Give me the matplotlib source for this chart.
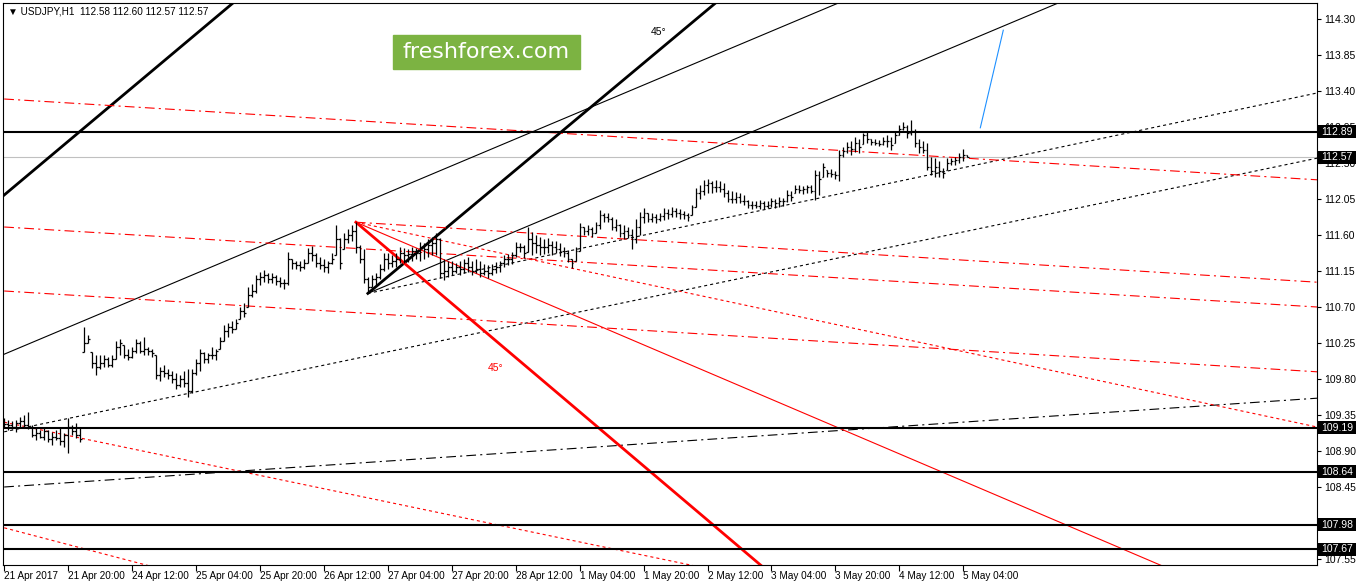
import numpy as np
import matplotlib.pyplot as plt
from matplotlib.patches import Rectangle
from matplotlib.transforms import blended_transform_factory

plt.rcParams['font.family'] = ['Liberation Sans', 'DejaVu Sans']
plt.rcParams['lines.scale_dashes'] = False

# USDJPY H1, 21 Apr 2017 04:00 .. 5 May 2017 05:00
highs = [109.31, 109.29, 109.27, 109.29, 109.33, 109.35, 109.39, 109.22, 109.19, 109.16,
         109.20, 109.16, 109.14, 109.16, 109.19, 109.12, 109.31, 109.22, 109.25, 109.20,
         110.45, 110.35, 110.14, 110.10, 110.10, 110.10, 110.08, 110.10, 110.28, 110.30,
         110.22, 110.18, 110.20, 110.30, 110.28, 110.33, 110.20, 110.18, 110.10, 109.95,
         109.97, 109.92, 109.90, 109.88, 109.85, 109.90, 109.92, 109.93, 110.05, 110.17,
         110.14, 110.12, 110.20, 110.18, 110.33, 110.48, 110.50, 110.52, 110.55, 110.70,
         110.75, 110.95, 110.99, 111.10, 111.14, 111.16, 111.13, 111.12, 111.10, 111.07,
         111.05, 111.39, 111.30, 111.28, 111.28, 111.30, 111.44, 111.46, 111.38, 111.33,
         111.30, 111.28, 111.38, 111.72, 111.56, 111.63, 111.68, 111.72, 111.76, 111.48,
         111.42, 111.08, 111.10, 111.12, 111.24, 111.38, 111.38, 111.35, 111.37, 111.45,
         111.44, 111.42, 111.45, 111.44, 111.51, 111.50, 111.55, 111.57, 111.62, 111.56,
         111.30, 111.28, 111.28, 111.25, 111.27, 111.30, 111.32, 111.28, 111.30, 111.28,
         111.24, 111.22, 111.24, 111.26, 111.28, 111.35, 111.36, 111.39, 111.51, 111.50,
         111.48, 111.70, 111.64, 111.60, 111.58, 111.55, 111.56, 111.52, 111.52, 111.50,
         111.45, 111.41, 111.30, 111.45, 111.75, 111.70, 111.72, 111.70, 111.76, 111.91,
         111.88, 111.88, 111.82, 111.80, 111.74, 111.72, 111.70, 111.68, 111.80, 111.89,
         111.94, 111.88, 111.87, 111.86, 111.88, 111.94, 111.92, 111.95, 111.94, 111.92,
         111.90, 111.88, 111.98, 112.19, 112.22, 112.29, 112.30, 112.28, 112.29, 112.27,
         112.25, 112.16, 112.15, 112.14, 112.12, 112.10, 112.04, 112.03, 112.02, 112.04,
         112.02, 112.03, 112.06, 112.05, 112.07, 112.06, 112.16, 112.15, 112.22, 112.22,
         112.21, 112.23, 112.22, 112.41, 112.40, 112.50, 112.41, 112.42, 112.40, 112.66,
         112.70, 112.76, 112.78, 112.82, 112.80, 112.88, 112.89, 112.80, 112.80, 112.79,
         112.82, 112.85, 112.82, 112.90, 112.97, 113.01, 112.97, 113.04, 112.92, 112.80,
         112.78, 112.75, 112.57, 112.56, 112.52, 112.44, 112.56, 112.56, 112.57, 112.63,
         112.67, 112.60]
lows = [109.19, 109.16, 109.17, 109.14, 109.19, 109.20, 109.17, 109.07, 109.04, 109.06,
        109.04, 109.01, 108.98, 109.04, 108.98, 108.95, 108.88, 109.10, 109.06, 109.01,
        110.14, 110.25, 109.94, 109.85, 109.92, 109.95, 109.95, 109.95, 110.05, 110.10,
        110.06, 110.04, 110.06, 110.12, 110.12, 110.10, 110.10, 110.08, 109.80, 109.78,
        109.82, 109.80, 109.75, 109.68, 109.70, 109.70, 109.58, 109.62, 109.85, 109.90,
        110.00, 110.00, 110.05, 110.04, 110.18, 110.28, 110.33, 110.38, 110.42, 110.55,
        110.58, 110.70, 110.82, 110.88, 110.97, 111.01, 111.00, 111.00, 110.98, 110.95,
        110.92, 110.98, 111.18, 111.18, 111.15, 111.18, 111.25, 111.28, 111.20, 111.18,
        111.14, 111.13, 111.24, 111.35, 111.18, 111.43, 111.50, 111.52, 111.38, 111.25,
        111.00, 110.87, 110.95, 110.98, 111.05, 111.15, 111.18, 111.20, 111.20, 111.25,
        111.25, 111.26, 111.28, 111.30, 111.27, 111.30, 111.32, 111.35, 111.35, 111.06,
        111.04, 111.08, 111.10, 111.12, 111.10, 111.12, 111.14, 111.10, 111.12, 111.08,
        111.10, 111.06, 111.10, 111.12, 111.14, 111.20, 111.22, 111.24, 111.32, 111.39,
        111.31, 111.39, 111.35, 111.38, 111.35, 111.36, 111.37, 111.35, 111.37, 111.34,
        111.32, 111.26, 111.19, 111.28, 111.40, 111.60, 111.60, 111.58, 111.62, 111.68,
        111.76, 111.76, 111.66, 111.65, 111.57, 111.55, 111.56, 111.42, 111.50, 111.60,
        111.75, 111.76, 111.76, 111.75, 111.77, 111.79, 111.80, 111.82, 111.82, 111.80,
        111.80, 111.78, 111.85, 111.95, 112.05, 112.10, 112.12, 112.12, 112.14, 112.14,
        112.08, 112.01, 112.00, 112.00, 112.00, 111.98, 111.94, 111.93, 111.94, 111.93,
        111.92, 111.94, 111.95, 111.94, 111.95, 111.96, 112.01, 112.02, 112.12, 112.12,
        112.11, 112.13, 112.12, 112.04, 112.10, 112.32, 112.32, 112.32, 112.30, 112.27,
        112.58, 112.62, 112.60, 112.64, 112.63, 112.74, 112.75, 112.72, 112.72, 112.71,
        112.72, 112.70, 112.66, 112.75, 112.85, 112.91, 112.81, 112.85, 112.70, 112.62,
        112.62, 112.41, 112.35, 112.33, 112.32, 112.31, 112.41, 112.47, 112.47, 112.50,
        112.52, 112.57]
closes = [109.24, 109.22, 109.20, 109.25, 109.28, 109.22, 109.20, 109.10, 109.12, 109.08,
          109.15, 109.05, 109.08, 109.06, 109.02, 109.10, 109.20, 109.15, 109.10, 109.05,
          110.25, 110.30, 110.00, 109.95, 110.00, 110.05, 109.98, 110.05, 110.20, 110.25,
          110.10, 110.08, 110.15, 110.25, 110.15, 110.18, 110.15, 110.12, 109.85, 109.90,
          109.88, 109.85, 109.80, 109.72, 109.80, 109.75, 109.65, 109.88, 110.00, 110.12,
          110.05, 110.10, 110.10, 110.15, 110.28, 110.40, 110.45, 110.42, 110.50, 110.65,
          110.62, 110.85, 110.90, 111.05, 111.08, 111.10, 111.05, 111.08, 111.02, 111.00,
          111.00, 111.30, 111.25, 111.22, 111.20, 111.25, 111.38, 111.35, 111.25, 111.22,
          111.20, 111.25, 111.30, 111.55, 111.25, 111.55, 111.60, 111.65, 111.45, 111.30,
          111.05, 110.95, 111.05, 111.08, 111.18, 111.30, 111.25, 111.28, 111.30, 111.38,
          111.35, 111.36, 111.40, 111.38, 111.45, 111.42, 111.48, 111.50, 111.55, 111.12,
          111.15, 111.20, 111.15, 111.20, 111.18, 111.25, 111.20, 111.15, 111.18, 111.12,
          111.15, 111.12, 111.18, 111.20, 111.25, 111.30, 111.30, 111.35, 111.45, 111.45,
          111.38, 111.55, 111.50, 111.48, 111.45, 111.45, 111.48, 111.45, 111.42, 111.40,
          111.38, 111.30, 111.25, 111.40, 111.70, 111.65, 111.68, 111.62, 111.72, 111.85,
          111.82, 111.80, 111.70, 111.72, 111.62, 111.65, 111.60, 111.55, 111.70, 111.82,
          111.88, 111.80, 111.82, 111.80, 111.84, 111.88, 111.86, 111.90, 111.88, 111.86,
          111.85, 111.82, 111.95, 112.12, 112.15, 112.22, 112.25, 112.20, 112.20, 112.18,
          112.12, 112.05, 112.05, 112.08, 112.03, 112.02, 111.98, 111.97, 111.96, 112.00,
          111.96, 111.98, 112.02, 112.00, 112.03, 112.02, 112.10, 112.08, 112.18, 112.16,
          112.18, 112.20, 112.15, 112.35, 112.30, 112.45, 112.38, 112.36, 112.35, 112.60,
          112.65, 112.70, 112.68, 112.75, 112.70, 112.85, 112.80, 112.76, 112.75, 112.74,
          112.78, 112.78, 112.72, 112.85, 112.92, 112.95, 112.88, 112.90, 112.75, 112.70,
          112.66, 112.45, 112.40, 112.45, 112.40, 112.38, 112.50, 112.52, 112.54, 112.58,
          112.60, 112.57]
first_open = 109.22

time_labels = ['21 Apr 2017', '21 Apr 20:00', '24 Apr 12:00', '25 Apr 04:00', '25 Apr 20:00',
               '26 Apr 12:00', '27 Apr 04:00', '27 Apr 20:00', '28 Apr 12:00', '1 May 04:00',
               '1 May 20:00', '2 May 12:00', '3 May 04:00', '3 May 20:00', '4 May 12:00',
               '5 May 04:00']
price_ticks = [107.55, 108.00, 108.45, 108.90, 109.35, 109.80, 110.25, 110.70, 111.15,
               111.60, 112.05, 112.50, 112.95, 113.40, 113.85, 114.30]
levels = [112.89, 109.19, 108.64, 107.98, 107.67]
bid = 112.57

# objets graphiques: (barre0, prix0, barre1, prix1)
black_thick = [(0, 112.10, 57.25, 114.50), (91, 110.87, 178, 114.50)]
black_thin = [(0, 110.11, 208.75, 114.50), (91, 110.87, 263.75, 114.50)]
black_dot = [(91, 110.87, 328.5, 113.375), (0, 109.14, 328.5, 112.56)]
black_dashdot = [(0, 108.45, 328.5, 109.56)]
red_thick = [(88, 111.76, 189.25, 107.475)]
red_thin = [(88, 111.76, 289.25, 107.475)]
red_dot = [(88, 111.76, 328.5, 109.20), (0, 109.26, 44.25, 108.80), (0, 107.94, 35.5, 107.475)]
red_dashdot = [(0, 113.30, 328.5, 112.29), (0, 111.70, 328.5, 110.70),
               (0, 110.90, 328.5, 109.89), (88, 111.76, 328.5, 111.01)]
blue_line = [(244.25, 112.94, 250, 114.16)]

W, H = 1358, 584
fig = plt.figure(figsize=(W / 100, H / 100), dpi=100)
ax = fig.add_axes([3 / W, 19 / H, 1314 / W, 562 / H])

def extend(seg):
    # prolonge le segment loin a droite (rayon), le cadre coupe le reste
    b0, p0, b1, p1 = seg
    k = (p1 - p0) / (b1 - b0)
    return [b0, 400], [p0, p0 + k * (400 - b0)]

dot = (0, (2.2, 2.2))
dashdot = (0, (7, 3, 1.5, 3))
groups = [
    (black_thick, 'black', 2.0, '-'),
    (black_thin, 'black', 0.8, '-'),
    (black_dot, 'black', 0.8, dot),
    (black_dashdot, 'black', 0.8, dashdot),
    (red_thick, 'red', 2.0, '-'),
    (red_thin, 'red', 0.8, '-'),
    (red_dot, 'red', 0.8, dot),
    (red_dashdot, 'red', 0.8, dashdot),
    (blue_line, '#1e90ff', 0.8, '-'),
]
for segs, col, lw, ls in groups:
    for s in segs:
        if segs is blue_line:
            xs, ys = [s[0], s[2]], [s[1], s[3]]
        else:
            xs, ys = extend(s)
        ax.plot(xs, ys, color=col, lw=lw, linestyle=ls, zorder=2)

for lv in levels:
    ax.axhline(lv, color='black', lw=1.5, zorder=3)
ax.axhline(bid, color='#c0c0c0', lw=0.8, zorder=1)

# barres OHLC
h = np.array(highs)
l = np.array(lows)
c = np.array(closes)
o = np.clip(np.concatenate([[first_open], c[:-1]]), l, h)
idx = np.arange(len(h))
ax.vlines(idx, l, h, color='black', lw=0.9, zorder=4)
ax.hlines(o, idx - 0.45, idx, color='black', lw=0.9, zorder=4)
ax.hlines(c, idx, idx + 0.45, color='black', lw=0.9, zorder=4)

ax.set_xlim(-0.3, 328.5)
ax.set_ylim(107.475, 114.5)

ax.yaxis.tick_right()
ax.set_yticks(price_ticks)
# 108.00 est entierement cache par l'etiquette 107.98
ax.set_yticklabels(['' if p == 108.00 else f'{p:.2f}' for p in price_ticks])
ax.set_xticks(np.arange(len(time_labels)) * 16)
ax.set_xticklabels(time_labels, ha='left')
ax.tick_params(axis='y', right=True, length=3, width=0.8, labelsize=7.5, pad=2)
ax.tick_params(axis='x', length=4, width=0.8, labelsize=7.2, pad=0.5)
for sp in ax.spines.values():
    sp.set_linewidth(0.8)

tr = blended_transform_factory(fig.transFigure, ax.transData)
for lv in levels + [bid]:
    ax.add_patch(Rectangle((1318 / W, lv - 0.082), 38 / W, 0.164, transform=tr,
                           facecolor='black', edgecolor='none', clip_on=False, zorder=6))
    ax.text(1337 / W, lv, f'{lv:.2f}', transform=tr, color='white', fontsize=7.5,
            va='center', ha='center', clip_on=False, zorder=7)

ax.text(123, 109.94, '45°', color='red', fontsize=7.5, ha='center', va='center')
ax.text(163.75, 114.14, '45°', color='black', fontsize=7.5, ha='center', va='center')

fig.text(8 / W, 1 - 12 / H, '▼ USDJPY,H1  112.58 112.60 112.57 112.57', fontsize=7.2, va='center')
fig.patches.append(Rectangle((393 / W, 1 - 69 / H), 187 / W, 34 / H,
                             transform=fig.transFigure, color='#7cb342', zorder=5))
fig.text(486 / W, 1 - 52 / H, 'freshforex.com', color='white', fontsize=16,
         family='DejaVu Sans', ha='center', va='center', zorder=6)

fig.savefig('out.png', dpi=100)
